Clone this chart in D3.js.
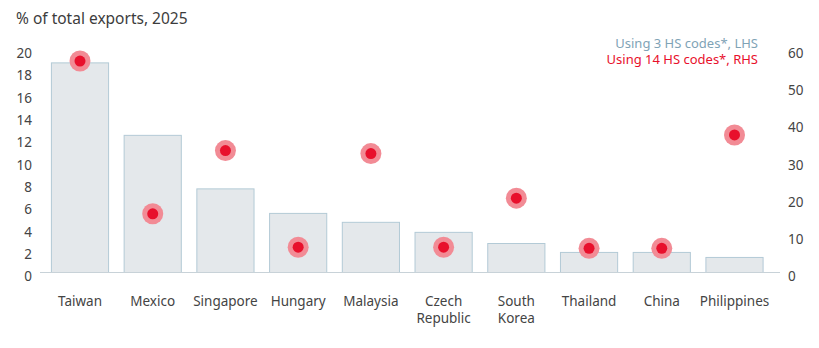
<!DOCTYPE html>
<html>
<head>
<meta charset="utf-8">
<script src="https://cdn.jsdelivr.net/npm/d3@7"></script>
<style>
  body { margin: 0; background: #fff; }
  text { font-family: "Noto Sans", "Open Sans", sans-serif; }
</style>
</head>
<body>
<script>
var countries = ["Taiwan", "Mexico", "Singapore", "Hungary", "Malaysia", "Czech Republic", "South Korea", "Thailand", "China", "Philippines"];
var hs3Values = [18.8, 12.3, 7.5, 5.3, 4.5, 3.6, 2.6, 1.8, 1.8, 1.35];
var hs14Values = [56.9, 15.8, 32.8, 6.8, 32.0, 6.8, 20.0, 6.5, 6.5, 37.0];
var leftTicks = [0, 2, 4, 6, 8, 10, 12, 14, 16, 18, 20];
var rightTicks = [0, 10, 20, 30, 40, 50, 60];

var width = 819, height = 348;
var svg = d3.select("body").append("svg")
    .attr("width", width)
    .attr("height", height);

var xScale = d3.scaleBand()
    .domain(countries)
    .range([40, 774.5])
    .paddingInner(0.2)
    .paddingOuter(0.15);

var yLeft = d3.scaleLinear().domain([0, 20]).range([272.5, 49.5]);
var yRight = d3.scaleLinear().domain([0, 60]).range([272.5, 49.5]);

// title
svg.append("text")
    .attr("x", 16)
    .attr("y", 24)
    .attr("fill", "#3c3c3c")
    .style("font-size", "15.5px")
    .text("% of total exports, 2025");

// bars
svg.selectAll("rect.bar")
    .data(hs3Values)
    .enter()
    .append("rect")
    .attr("class", "bar")
    .attr("x", (d, i) => xScale(countries[i]) + 0.5)
    .attr("y", d => yLeft(d))
    .attr("width", xScale.bandwidth() - 1)
    .attr("height", d => yLeft(0) - yLeft(d))
    .attr("fill", "#e4e8eb")
    .attr("stroke", "#b3cad6")
    .attr("stroke-width", 1);

// baseline
svg.append("line")
    .attr("x1", 40).attr("x2", 780)
    .attr("y1", yLeft(0)).attr("y2", yLeft(0))
    .attr("stroke", "#c8d2d8")
    .attr("stroke-width", 1);

// left axis
var axisL = svg.append("g")
    .attr("transform", "translate(32,0)")
    .call(d3.axisLeft(yLeft).tickValues(leftTicks).tickSize(0).tickPadding(0));
axisL.select(".domain").remove();
axisL.selectAll("text")
    .attr("dy", "0.6em")
    .attr("fill", "#444")
    .style("font-size", "13.5px")
    .style("font-family", "'Noto Sans', sans-serif");

// right axis
var axisR = svg.append("g")
    .attr("transform", "translate(788,0)")
    .call(d3.axisRight(yRight).tickValues(rightTicks).tickSize(0).tickPadding(0));
axisR.select(".domain").remove();
axisR.selectAll("text")
    .attr("dy", "0.6em")
    .attr("fill", "#444")
    .style("font-size", "13.5px")
    .style("font-family", "'Noto Sans', sans-serif");

// dots
var dots = svg.selectAll("g.dot")
    .data(hs14Values)
    .enter()
    .append("g")
    .attr("class", "dot")
    .attr("transform", (d, i) => "translate(" + (xScale(countries[i]) + xScale.bandwidth() / 2) + "," + yRight(d) + ")");
dots.append("circle").attr("r", 10.5).attr("fill", "#f28b95");
dots.append("circle").attr("r", 5.5).attr("fill", "#e8102c");

// x labels
svg.selectAll("text.xlabel")
    .data(countries)
    .enter()
    .append("text")
    .attr("class", "xlabel")
    .attr("x", d => xScale(d) + xScale.bandwidth() / 2)
    .attr("y", 306)
    .attr("text-anchor", "middle")
    .attr("fill", "#444")
    .style("font-size", "13.5px")
    .each(function(d) {
        var words = d.split(" ");
        var t = d3.select(this);
        words.forEach((w, k) => {
            t.append("tspan")
                .attr("x", xScale(d) + xScale.bandwidth() / 2)
                .attr("dy", k === 0 ? 0 : 17)
                .text(w);
        });
    });

// legend
svg.append("text")
    .attr("x", 758)
    .attr("y", 47.5)
    .attr("text-anchor", "end")
    .attr("fill", "#7fa3b6")
    .style("font-size", "13px")
    .text("Using 3 HS codes*, LHS");
svg.append("text")
    .attr("x", 758)
    .attr("y", 64)
    .attr("text-anchor", "end")
    .attr("fill", "#e8102c")
    .style("font-size", "13px")
    .text("Using 14 HS codes*, RHS");
</script>
</body>
</html>
